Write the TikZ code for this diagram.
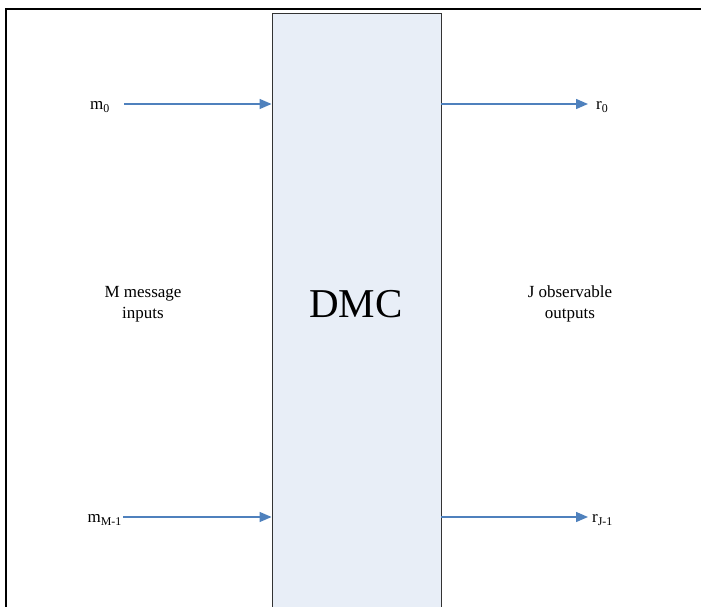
\documentclass[tikz,border=0pt]{standalone}
\usepackage{fontspec}
\setmainfont{Liberation Serif}
\usetikzlibrary{arrows.meta,positioning}

\definecolor{chanfill}{HTML}{E8EEF7}
\definecolor{arrowblue}{HTML}{4F81BD}

\begin{document}
\begin{tikzpicture}[x=1pt,y=-1pt, inner sep=0pt]% pixel grid, y downwards
\useasboundingbox (0,0) rectangle (701,607);
\tikzstyle{every node}=[font=\fontsize{17}{21}\selectfont]
\tikzstyle{link}=[draw=arrowblue, line width=1.4pt, -{Triangle[length=12pt,width=10pt]}]
\tikzstyle{chan}=[draw=black!80, line width=0.9pt, fill=chanfill, minimum width=169pt, minimum height=640pt]

% frame
\draw[line width=2.5pt] (6,607) -- (6,9) -- (701,9);

% channel
\node[chan, anchor=north] (dmc) at (356.5,13) {};
\node[font=\fontsize{41}{41}\selectfont] (dmclbl) at (356,304) {DMC};

% inputs
\coordinate (in0) at (124,104);
\coordinate (inM) at (123,517);
\node[left=14pt of in0, yshift=-3pt] (m0) {m\textsubscript{0}};
\node[left=1pt of inM, yshift=-3pt] (mM) {m\textsubscript{M-1}};
\draw[link] (in0) -- (dmc.west |- in0);
\draw[link] (inM) -- (dmc.west |- inM);

% outputs
\coordinate (out0) at (588,104);
\coordinate (outJ) at (588,517);
\draw[link] (dmc.east |- out0) -- (out0);
\draw[link] (dmc.east |- outJ) -- (outJ);
\node[right=8pt of out0, yshift=-3pt] (r0) {r\textsubscript{0}};
\node[right=4pt of outJ, yshift=-3pt] (rJ) {r\textsubscript{J-1}};

% notes
\node[align=center] (msg) at (143,304) {M message\\inputs};
\node[align=center] (obs) at (570,304) {J observable\\outputs};
\end{tikzpicture}
\end{document}
